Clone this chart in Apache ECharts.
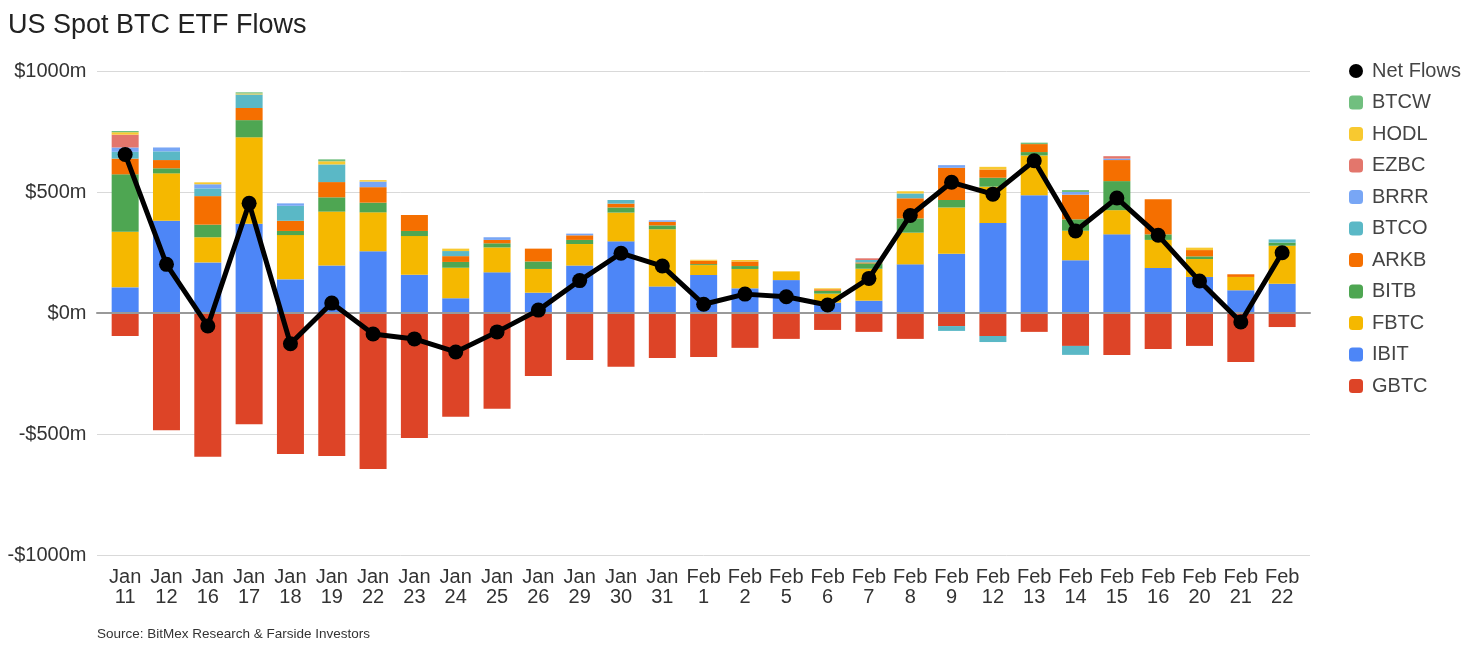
<!DOCTYPE html>
<html><head><meta charset="utf-8">
<style>html,body{margin:0;padding:0;background:#fff}#c{width:1478px;height:656px}</style>
<script src="https://cdn.jsdelivr.net/npm/echarts@6/dist/echarts.min.js"></script>
</head><body><div id="c"></div>
<script>
const categories=['Jan\n11','Jan\n12','Jan\n16','Jan\n17','Jan\n18','Jan\n19','Jan\n22','Jan\n23','Jan\n24','Jan\n25','Jan\n26','Jan\n29','Jan\n30','Jan\n31','Feb\n1','Feb\n2','Feb\n5','Feb\n6','Feb\n7','Feb\n8','Feb\n9','Feb\n12','Feb\n13','Feb\n14','Feb\n15','Feb\n16','Feb\n20','Feb\n21','Feb\n22'];
const GBTC=[-95,-484,-594,-460,-583,-591,-645,-517,-429,-396,-260,-194,-222,-186,-182,-144,-107,-70,-78,-107,-54,-95,-78,-136,-174,-149,-136,-202,-58];
const IBIT=[106,381,209,369,139,196,255,158,61,168,84,196,296,110,157,102,136,43,51,201,245,372,487,218,325,186,149,94,121];
const FBTC=[230,196,104,357,183,223,161,160,126,103,98,89,119,236,41,80,36,37,132,131,191,150,164,122,100,116,74,55,157];
const BITB=[237,21,52,71,17,59,40,21,24,17,31,17,21,16,4,12,0,12,22,59,31,37,14,47,120,23,11,0,13];
const ARKB=[65,34,118,50,42,63,64,66,24,14,53,19,16,15,14,19,0,6,4,83,133,34,33,102,87,145,26,11,0];
const BTCO=[28,36,32,56,62,73,0,0,21,0,0,0,15,0,0,0,0,0,10,20,-20,-25,0,-37,0,0,0,0,13];
const BRRR=[18,16,17,0,10,0,23,0,0,11,0,7,0,6,0,0,0,0,0,0,11,0,0,11,6,0,0,0,0];
const EZBC=[53,0,0,0,0,0,0,0,0,0,0,0,0,0,0,0,0,0,7,0,0,0,0,0,10,0,0,0,0];
const HODL=[10,0,8,4,0,13,6,0,10,0,0,0,0,0,4,6,0,4,0,9,0,11,0,0,0,0,10,0,0];
const BTCW=[5,0,0,5,0,8,0,0,0,0,0,0,0,0,0,0,0,0,0,0,0,0,6,8,0,0,0,0,0];
const NET=[655,201,-54,453,-127,41,-87,-107,-161,-78,12,134,247,194,36,78,67,33,143,403,540,491,629,339,475,321,132,-37,249];
const yTicks={1000:'$1000m',500:'$500m',0:'$0m','-500':'-$500m','-1000':'-$1000m'};
const stacks=[['GBTC',GBTC,'#dd4427'],['IBIT',IBIT,'#4d86f7'],['FBTC',FBTC,'#f5b800'],['BITB',BITB,'#4ea652'],['ARKB',ARKB,'#f56f00'],['BTCO',BTCO,'#5ab8c6'],['BRRR',BRRR,'#78a6f5'],['EZBC',EZBC,'#e3766c'],['HODL',HODL,'#f8c930'],['BTCW',BTCW,'#71bf7f']];
const legendOrder=['BTCW','HODL','EZBC','BRRR','BTCO','ARKB','BITB','FBTC','IBIT','GBTC'];
const font='"Liberation Sans", Arial, sans-serif';
const chart=echarts.init(document.getElementById('c'),null,{renderer:'canvas'});
chart.setOption({
 animation:false,
 backgroundColor:'#fff',
 title:[
  {text:'US Spot BTC ETF Flows',left:3,top:7,textStyle:{fontFamily:font,fontSize:27,fontWeight:'normal',color:'#222'}},
  {text:'Source: BitMex Research & Farside Investors',left:92,top:622,textStyle:{fontFamily:font,fontSize:13.5,fontWeight:'normal',color:'#333'}}
 ],
 legend:{orient:'vertical',left:1344,top:56,itemWidth:14,itemHeight:14,itemGap:11.5,
  textStyle:{fontFamily:font,fontSize:20,color:'#444',padding:[0,0,0,4],lineHeight:18},
  data:[{name:'Net Flows',icon:'circle'},...legendOrder.map(n=>({name:n,icon:'roundRect'}))]},
 grid:[{left:104.5,width:1198.3,top:71,height:484},{left:97,width:1213,top:71,height:484}],
 xAxis:[
  {type:'category',gridIndex:0,data:categories,position:'bottom',axisTick:{show:false},
   axisLabel:{interval:0,fontFamily:font,fontSize:20,color:'#333',lineHeight:20,margin:12},
   axisLine:{show:false,onZero:false}},
  {type:'category',gridIndex:1,data:categories,axisLabel:{show:false},axisTick:{show:false},z:3,
   axisLine:{show:true,onZero:true,lineStyle:{color:'#999',width:2}}}
 ],
 yAxis:[
  {type:'value',gridIndex:0,min:-1000,max:1000,interval:500,splitLine:{show:false},axisLine:{show:false},axisTick:{show:false},
   axisLabel:{fontFamily:font,fontSize:20,color:'#333',margin:18,formatter:v=>yTicks[v]}},
  {type:'value',gridIndex:1,min:-1000,max:1000,interval:500,axisLabel:{show:false},axisLine:{show:false},axisTick:{show:false},
   splitLine:{show:true,lineStyle:{color:'#d9d9d9',width:1}}}
 ],
 series:[
  ...stacks.map(([name,data,color])=>({name,type:'bar',stack:'flows',xAxisIndex:0,yAxisIndex:0,data,barWidth:27,itemStyle:{color},z:2})),
  {name:'Net Flows',type:'line',xAxisIndex:0,yAxisIndex:0,data:NET,symbol:'circle',symbolSize:15,z:5,
   lineStyle:{color:'#000',width:5},itemStyle:{color:'#000'}}
 ]
});
</script></body></html>
